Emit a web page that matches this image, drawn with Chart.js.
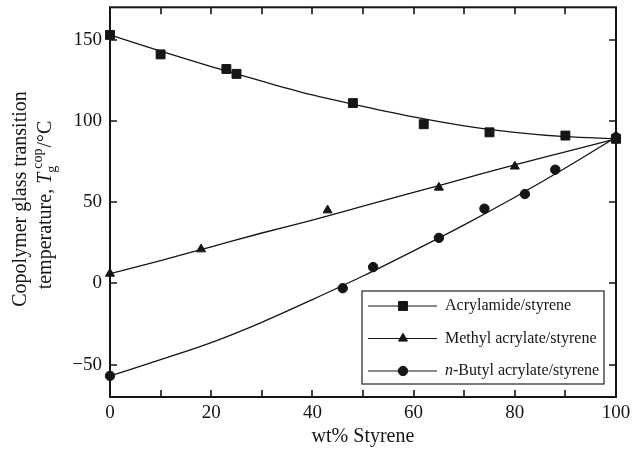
<!DOCTYPE html>
<html>
<head>
<meta charset="utf-8">
<script src="https://cdn.jsdelivr.net/npm/chart.js@4"></script>
<style>
  html, body { margin: 0; padding: 0; background: #fff; }
  canvas { display: block; }
</style>
</head>
<body>
<canvas id="tgChart" width="633" height="456"></canvas>
<script>
  // fitted curves, read every 10 wt%
  const curveX = [0, 10, 20, 30, 40, 50, 60, 70, 80, 90, 100];
  const acrylCurve = [153, 143, 133.5, 124.5, 116, 109, 102.5, 97, 93, 90.3, 89];
  const methylCurve = [6, 14, 22.5, 31, 39, 47.5, 56, 64.5, 73, 81, 89];
  const butylCurve = [-57, -47, -36.5, -24, -10, 4.5, 20, 36, 53, 71, 90];

  // measured points
  const acrylX = [0, 10, 23, 25, 48, 62, 75, 90, 100];
  const acrylY = [153, 141, 132, 129, 111, 98, 93, 91, 89];
  const methylX = [0, 18, 43, 65, 80, 100];
  const methylY = [6, 21, 45, 59, 72, 89];
  const butylX = [0, 46, 52, 65, 74, 82, 88, 100];
  const butylY = [-57, -3, 10, 28, 46, 55, 70, 90];

  const xTickLabels = [0, 20, 40, 60, 80, 100];
  const xTickMarks = [10, 20, 30, 40, 50, 60, 70, 80, 90];
  const yTickLabels = [-50, 0, 50, 100, 150];

  const seriesNames = ["Acrylamide/styrene", "Methyl acrylate/styrene", "n-Butyl acrylate/styrene"];

  const INK = "#151515";
  const SERIF = "'Liberation Serif', 'DejaVu Serif', serif";

  function pts(xs, ys) {
    return xs.map(function (x, i) { return { x: x, y: ys[i] }; });
  }

  function curveSet(ys) {
    return {
      data: pts(curveX, ys),
      borderColor: INK,
      borderWidth: 1.3,
      pointRadius: 0,
      cubicInterpolationMode: "monotone",
      fill: false,
      order: 5,
    };
  }

  function markerSet(xs, ys, style, r, order) {
    return {
      data: pts(xs, ys),
      showLine: false,
      pointStyle: style,
      pointRadius: r,
      pointHoverRadius: r,
      pointBackgroundColor: INK,
      pointBorderColor: INK,
      pointBorderWidth: 1,
      clip: false,
      order: order,
    };
  }

  const markers = [
    { style: "rect", r: 6.3 },
    { style: "triangle", r: 5.2 },
    { style: "circle", r: 4.7 },
  ];

  function drawMarker(ctx, m, x, y) {
    ctx.fillStyle = INK;
    ctx.strokeStyle = INK;
    ctx.lineWidth = 1;
    Chart.helpers.drawPoint(ctx, { pointStyle: m.style, radius: m.r, rotation: 0, borderWidth: 1 }, x, y);
  }

  function noPad(s) {
    s.paddingTop = 0;
    s.paddingBottom = 0;
    s.paddingLeft = 0;
    s.paddingRight = 0;
  }

  const framePlugin = {
    id: "frame",
    afterDraw: function (chart) {
      const ctx = chart.ctx;
      const a = chart.chartArea;
      const xs = chart.scales.x;
      const ys = chart.scales.y;
      const tick = 7;
      ctx.save();
      ctx.strokeStyle = INK;
      ctx.lineWidth = 2;
      ctx.strokeRect(a.left, a.top, a.right - a.left, a.bottom - a.top);
      ctx.lineWidth = 1.6;
      ctx.beginPath();
      xTickMarks.forEach(function (v) {
        const px = Math.round(xs.getPixelForValue(v));
        ctx.moveTo(px, a.bottom);
        ctx.lineTo(px, a.bottom - tick);
        ctx.moveTo(px, a.top);
        ctx.lineTo(px, a.top + tick);
      });
      yTickLabels.forEach(function (v) {
        const py = Math.round(ys.getPixelForValue(v));
        ctx.moveTo(a.left, py);
        ctx.lineTo(a.left + tick, py);
        ctx.moveTo(a.right, py);
        ctx.lineTo(a.right - tick, py);
      });
      ctx.stroke();

      // legend
      const box = { l: 362, t: 291, r: 604, b: 384 };
      ctx.lineWidth = 1.3;
      ctx.strokeStyle = "#333";
      ctx.strokeRect(box.l, box.t, box.r - box.l, box.b - box.t);
      const rows = [306, 338.5, 371];
      ctx.font = "16px " + SERIF;
      ctx.textBaseline = "middle";
      ctx.textAlign = "left";
      rows.forEach(function (ry, i) {
        ctx.strokeStyle = INK;
        ctx.lineWidth = 1.1;
        ctx.beginPath();
        ctx.moveTo(368, ry);
        ctx.lineTo(437, ry);
        ctx.stroke();
        drawMarker(ctx, markers[i], 403, ry);
        ctx.fillStyle = INK;
        const name = seriesNames[i];
        if (name.indexOf("n-") === 0) {
          ctx.font = "italic 16px " + SERIF;
          ctx.fillText("n", 445, ry);
          const w = ctx.measureText("n").width;
          ctx.font = "16px " + SERIF;
          ctx.fillText(name.slice(1), 445 + w, ry);
        } else {
          ctx.fillText(name, 445, ry);
        }
      });

      // y axis title, two lines, rotated
      ctx.fillStyle = INK;
      ctx.save();
      ctx.translate(21, 199);
      ctx.rotate(-Math.PI / 2);
      ctx.textAlign = "center";
      ctx.textBaseline = "middle";
      ctx.font = "20px " + SERIF;
      ctx.fillText("Copolymer glass transition", 0, 0);
      ctx.restore();

      ctx.save();
      ctx.translate(46, 205);
      ctx.rotate(-Math.PI / 2);
      ctx.textBaseline = "middle";
      ctx.textAlign = "left";
      const big = "20px " + SERIF;
      const ital = "italic 20px " + SERIF;
      const small = "14px " + SERIF;
      ctx.font = big;
      const w1 = ctx.measureText("temperature, ").width;
      ctx.font = ital;
      const wT = ctx.measureText("T").width;
      ctx.font = small;
      const wsub = ctx.measureText("g").width;
      const wsup = ctx.measureText("cop").width;
      ctx.font = big;
      const wEnd = ctx.measureText("/°C").width;
      const total = w1 + wT + 1 + Math.max(wsub, wsup + 3) + 1 + wEnd;
      let x = -total / 2;
      ctx.font = big;
      ctx.fillText("temperature, ", x, 0);
      x += w1;
      ctx.font = ital;
      ctx.fillText("T", x, 0);
      x += wT + 1;
      ctx.font = small;
      ctx.fillText("g", x - 1, 6);
      ctx.fillText("cop", x + 3, -8);
      x += Math.max(wsub, wsup + 3) + 1;
      ctx.font = big;
      ctx.fillText("/°C", x, 0);
      ctx.restore();

      ctx.restore();
    },
  };

  new Chart(document.getElementById("tgChart"), {
    type: "line",
    data: {
      datasets: [
        curveSet(acrylCurve),
        curveSet(methylCurve),
        curveSet(butylCurve),
        markerSet(acrylX, acrylY, markers[0].style, markers[0].r, 2),
        markerSet(methylX, methylY, markers[1].style, markers[1].r, 1),
        markerSet(butylX, butylY, markers[2].style, markers[2].r, 0),
      ],
    },
    options: {
      responsive: false,
      animation: false,
      events: [],
      layout: { padding: { left: 0, right: 17, top: 7, bottom: 0 } },
      plugins: {
        legend: { display: false },
        tooltip: { enabled: false },
      },
      scales: {
        x: {
          type: "linear",
          min: 0,
          max: 100,
          grid: { display: false, drawTicks: false },
          border: { display: false },
          afterBuildTicks: function (s) {
            s.ticks = xTickLabels.map(function (v) { return { value: v }; });
          },
          afterFit: function (s) { s.height = 59; noPad(s); },
          ticks: {
            color: INK,
            padding: 5,
            maxRotation: 0,
            font: { family: SERIF, size: 19 },
          },
          title: {
            display: true,
            text: "wt% Styrene",
            color: INK,
            font: { family: SERIF, size: 20 },
            padding: { top: 0, bottom: 7 },
          },
        },
        y: {
          min: -70,
          max: 170,
          grid: { display: false, drawTicks: false },
          border: { display: false },
          afterBuildTicks: function (s) {
            s.ticks = yTickLabels.map(function (v) { return { value: v }; });
          },
          afterFit: function (s) { s.width = 110; noPad(s); },
          ticks: {
            color: INK,
            padding: 8,
            font: { family: SERIF, size: 19 },
            callback: function (v) { return v < 0 ? "\u2212" + Math.abs(v) : String(v); },
          },
        },
      },
    },
    plugins: [framePlugin],
  });
</script>
</body>
</html>
